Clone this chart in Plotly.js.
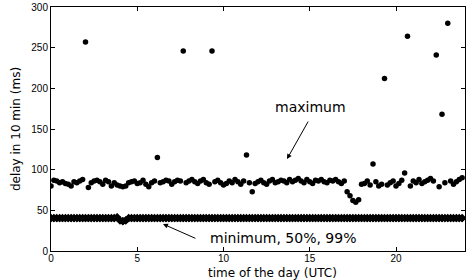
<!DOCTYPE html>
<html>
<head>
<meta charset="utf-8">
<script src="https://cdn.plot.ly/plotly-3.0.1.min.js"></script>
<style>html,body{margin:0;padding:0;background:#fff}#chart{width:466px;height:280px}</style>
</head>
<body>
<div id="chart"></div>
<script>
// sample index (one sample every 10 minutes), converted to hour of day
var sampleIndex = [];
for (var i = 0; i < 144; i++) sampleIndex.push(i);
var hours = sampleIndex.map(function(i){ return i * 10 / 60; });

// maximum delay within each 10 min interval (ms)
var maxDelay = [
  80, 87, 86, 84, 85, 83, 82, 80, 85, 84, 86, 88,
  257, 78, 84, 86, 87, 85, 82, 87, 85, 80, 84, 81,
  80, 79, 80, 84, 85, 86, 83, 84, 87, 82, 79, 84,
  86, 115, 84, 85, 87, 86, 82, 85, 87, 86, 246, 84,
  86, 88, 85, 83, 86, 88, 84, 82, 246, 85, 87, 84,
  81, 83, 86, 84, 88, 85, 82, 86, 118, 84, 73, 83,
  85, 87, 84, 82, 86, 88, 84, 85, 87, 86, 84, 88,
  85, 87, 89, 86, 84, 88, 85, 83, 87, 86, 88, 85,
  84, 87, 86, 88, 85, 83, 86, 73, 68, 62, 60, 63,
  82, 83, 86, 81, 107, 85, 80, 82, 212, 81, 84, 86,
  80, 83, 87, 96, 264, 80, 86, 84, 88, 83, 85, 87,
  89, 86, 241, 79, 168, 84, 280, 86, 82, 85, 88, 90
];

// minimum, median and 99th percentile delay (ms)
var minDelay = [
  40,40,40,40,40,40,40,40,40,40,40,40,40,40,40,40,40,40,40,40,40,40,40,41,
  37,36,37,40,40,40,40,40,40,40,40,40,40,40,40,40,40,40,40,40,40,40,40,40,
  40,40,40,40,40,40,40,40,40,40,40,40,40,40,40,40,40,40,40,40,40,40,40,40,
  40,40,40,40,40,40,40,40,40,40,40,40,40,40,40,40,40,40,40,40,40,40,40,40,
  40,40,40,40,40,40,40,40,40,40,40,40,40,40,40,40,40,40,40,40,40,40,40,40,
  40,40,40,40,40,40,40,40,40,40,40,40,40,40,40,40,40,40,40,40,40,40,40,40
];
var p50Delay = [
  40,40,40,40,40,40,40,40,40,40,40,40,40,40,40,40,40,40,40,40,40,40,40,41,
  38,37,38,40,40,40,40,40,40,40,40,40,40,40,40,40,40,40,40,40,40,40,40,40,
  40,40,40,40,40,40,40,40,40,40,40,40,40,40,40,40,40,40,40,40,40,40,40,40,
  40,40,40,40,40,40,40,40,40,40,40,40,40,40,40,40,40,40,40,40,40,40,40,40,
  40,40,40,40,40,40,40,40,40,40,40,40,40,40,40,40,40,40,40,40,40,40,40,40,
  40,40,40,40,40,40,40,40,40,40,40,40,40,40,40,40,40,40,40,40,40,40,40,40
];
var p99Delay = [
  41,41,41,41,41,41,41,41,41,41,41,41,41,41,41,41,41,41,41,41,41,41,41,42,
  38,37,38,41,41,41,41,41,41,41,41,41,41,41,41,41,41,41,41,41,41,41,41,41,
  41,41,41,41,41,41,41,41,41,41,41,41,41,41,41,41,41,41,41,41,41,41,41,41,
  41,41,41,41,41,41,41,41,41,41,41,41,41,41,41,41,41,41,41,41,41,41,41,41,
  41,41,41,41,41,41,41,41,41,41,41,41,41,41,41,41,41,41,41,41,41,41,41,41,
  41,41,41,41,41,41,41,41,41,41,41,41,41,41,41,41,41,41,41,41,41,41,41,41
];

var xTicks = [0, 5, 10, 15, 20];
var yTicks = [0, 50, 100, 150, 200, 250, 300];

var tickFont = 'Liberation Sans, Arial, Helvetica, sans-serif';
var textFont = 'DejaVu Sans, Verdana, sans-serif';

var pctMarker = {symbol: 'diamond', size: 6, color: '#000'};
var traces = [
  {x: hours, y: minDelay, type: 'scatter', mode: 'markers', marker: pctMarker, name: 'minimum'},
  {x: hours, y: p50Delay, type: 'scatter', mode: 'markers', marker: pctMarker, name: '50%'},
  {x: hours, y: p99Delay, type: 'scatter', mode: 'markers', marker: pctMarker, name: '99%'},
  {x: hours, y: maxDelay, type: 'scatter', mode: 'markers',
   marker: {symbol: 'circle', size: 5.5, color: '#000'}, name: 'maximum'}
];

var axisCommon = {
  showline: true, linecolor: '#000', linewidth: 1, mirror: 'ticks',
  ticks: 'inside', ticklen: 4, tickcolor: '#000', tickwidth: 1,
  showgrid: false, zeroline: false,
  tickfont: {family: tickFont, size: 10, color: '#000'}
};

var layout = {
  width: 466, height: 280,
  margin: {l: 51, r: 1, t: 7, b: 29},
  paper_bgcolor: '#fff', plot_bgcolor: '#fff',
  showlegend: false,
  font: {family: tickFont, color: '#000'},
  xaxis: Object.assign({}, axisCommon, {
    range: [0, 24], tickvals: xTicks, ticktext: xTicks.map(String),
    ticklabelstandoff: -2
  }),
  yaxis: Object.assign({}, axisCommon, {
    range: [0, 300], tickvals: yTicks, ticktext: yTicks.map(String),
    title: {text: 'delay in 10 min (ms)', font: {family: textFont, size: 12, color: '#000'}, standoff: 8}
  }),
  annotations: [
    {xref: 'paper', yref: 'paper', x: 0.534, y: 0, yanchor: 'top', yshift: -14, borderpad: 0,
     text: 'time of the day (UTC)', showarrow: false,
     font: {family: textFont, size: 12, color: '#000'}},
    {xref: 'x', yref: 'y', x: 15.07, y: 177, text: 'maximum', showarrow: false,
     font: {family: textFont, size: 14, color: '#000'}},
    {xref: 'x', yref: 'y', x: 13.68, y: 113, text: '', showarrow: true,
     ax: 22, ay: -39, arrowhead: 2, arrowsize: 1, arrowwidth: 1, arrowcolor: '#000'},
    {xref: 'x', yref: 'y', x: 13.45, y: 16, text: 'minimum, 50%, 99%', showarrow: false,
     font: {family: textFont, size: 14, color: '#000'}},
    {xref: 'x', yref: 'y', x: 6.49, y: 33.2, text: '', showarrow: true,
     ax: 34, ay: 15, arrowhead: 2, arrowsize: 1, arrowwidth: 1, arrowcolor: '#000'}
  ]
};

Plotly.newPlot('chart', traces, layout, {staticPlot: true, displayModeBar: false});
</script>
</body>
</html>
